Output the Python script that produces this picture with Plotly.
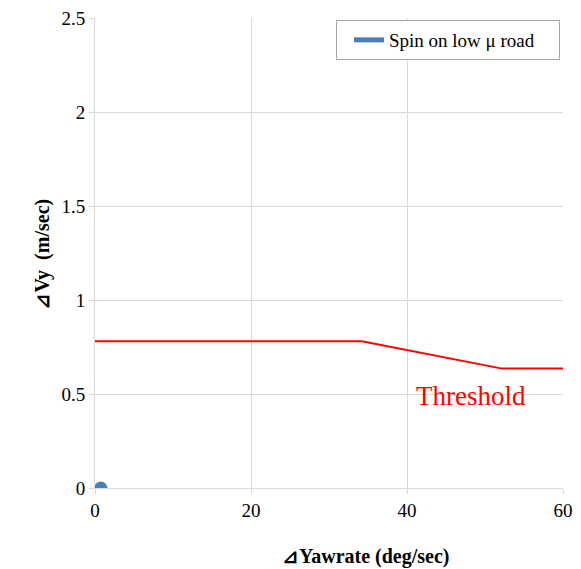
import plotly.graph_objects as go

# Data
spin_x = [0.75]
spin_y = [0.0]
thr_x = [0, 34.2, 52.2, 60]
thr_y = [0.78, 0.78, 0.635, 0.635]
x_ticks = [0, 20, 40, 60]
y_ticks = [0, 0.5, 1, 1.5, 2, 2.5]
y_tick_text = ["0", "0.5", "1", "1.5", "2", "2.5"]
series_name = "Spin on low \u03bc road"

SERIF = "Liberation Serif"
BLUE = "#4a7ebb"
GRID = "#d9d9d9"

fig = go.Figure()
fig.add_trace(go.Scatter(x=thr_x, y=thr_y, mode="lines",
                         line=dict(color="#ff0000", width=2), showlegend=False,
                         hoverinfo="skip"))
fig.add_trace(go.Scatter(x=spin_x, y=spin_y, mode="markers",
                         marker=dict(color=BLUE, size=13), showlegend=False))
# legend entry (line symbol as in the original legend)
fig.add_trace(go.Scatter(x=[None], y=[None], mode="lines",
                         line=dict(color=BLUE, width=5),
                         name=series_name + "\u00a0" * 4))

fig.add_annotation(x=48.2, y=0.49, xref="x", yref="y", text="Threshold",
                   showarrow=False, font=dict(family=SERIF, size=27, color="#ff0000"))
fig.add_annotation(x=(366 - 95) / 468, y=0.0, xref="paper", yref="paper", yshift=-82,
                   text="<b>\u22bfYawrate (deg/sec)</b>", showarrow=False,
                   font=dict(family=SERIF, size=20, color="#000"))
fig.add_annotation(x=0.0, y=0.5, xref="paper", yref="paper", xshift=-67, yshift=-1,
                   text="<b>\u22bfVy  (m/sec)</b>", textangle=-90, showarrow=False,
                   font=dict(family=SERIF, size=20, color="#000"))

fig.update_xaxes(range=[0, 60], tickvals=x_ticks, showgrid=True, gridcolor=GRID,
                 gridwidth=1, zeroline=False, showline=True, linecolor=GRID,
                 ticks="outside", ticklen=5, tickcolor=GRID, automargin=False,
                 tickfont=dict(family=SERIF, size=19, color="#000"))
fig.update_yaxes(range=[0, 2.5], tickvals=y_ticks, ticktext=y_tick_text,
                 showgrid=True, gridcolor=GRID, gridwidth=1, zeroline=False,
                 showline=True, linecolor=GRID, ticks="outside", ticklen=5,
                 tickcolor=GRID, automargin=False,
                 tickfont=dict(family=SERIF, size=19, color="#000"))

fig.update_layout(
    width=581, height=569,
    margin=dict(l=95, r=18, t=18, b=81, autoexpand=False),
    font=dict(family=SERIF, color="#000"),
    plot_bgcolor="white", paper_bgcolor="white",
    legend=dict(x=(336 - 95) / 468, y=(488 - 20) / 470, xanchor="left", yanchor="top",
                bordercolor="#a6a6a6", borderwidth=1, bgcolor="white",
                font=dict(family=SERIF, size=19, color="#000"),
                itemwidth=30, indentation=12),
    showlegend=True,
)

fig.write_html("out.html")
